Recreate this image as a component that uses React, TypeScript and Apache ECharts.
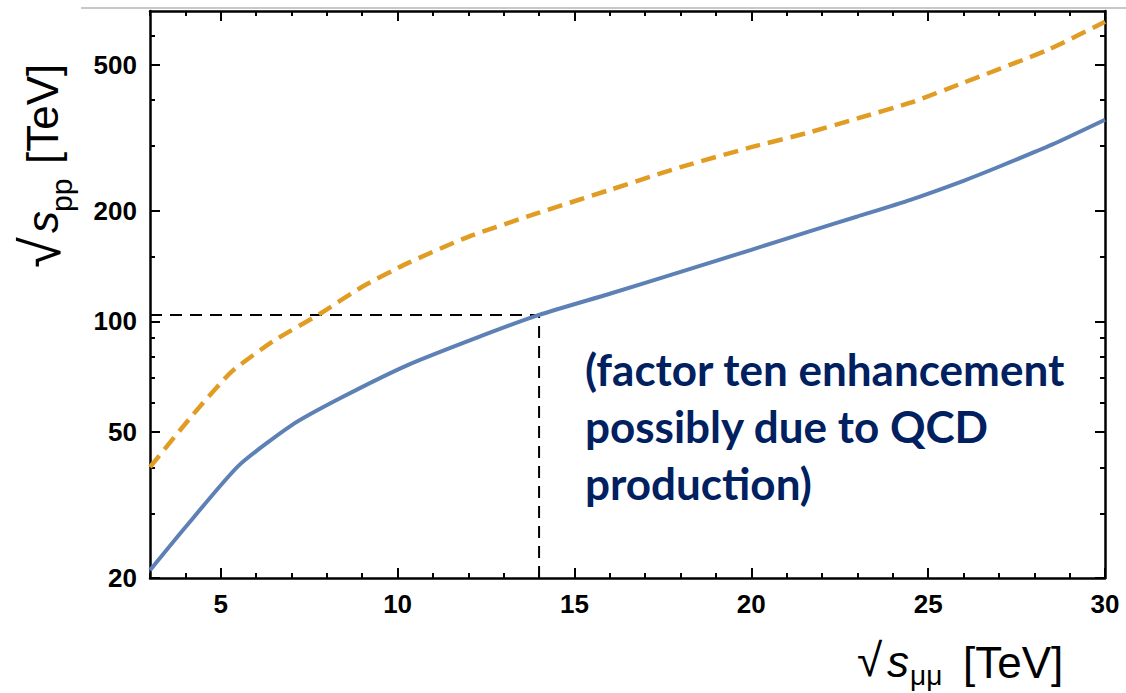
import React, { useEffect, useRef } from "react";
import * as echarts from "echarts";

// ---- data ----
const blueX = [3, 4, 5.5, 7, 8.4, 10.3, 12.3, 14, 16, 18, 20, 21.6, 23, 24.5, 26, 27, 28.5, 30];
const blueY = [21.0, 27.5, 40.4, 52.1, 61.9, 76.1, 90.7, 104.1, 118.9, 136.4, 156.6, 175.3, 193, 214.3, 241.4, 263.6, 302.7, 354];

const orangeX = [3, 4.2, 5.3, 6.5, 7.8, 9, 10.3, 12, 14, 16, 18, 20, 21.6, 23, 24.5, 26, 28.4, 30];
const orangeY = [40.1, 55.5, 72.8, 88.5, 104.8, 124.2, 144.3, 169.9, 197.6, 228, 263, 298, 326.2, 357, 393.9, 446.6, 549.4, 654.6];

const refX = [3, 14, 14];
const refY = [104, 104, 20];

const xMajorTicks = [5, 10, 15, 20, 25, 30];
const yMajorTicks = [20, 50, 100, 200, 500];
const yMinorTicks = [30, 40, 60, 70, 80, 90, 150, 300, 400, 600];

const X_MIN = 3;
const X_MAX = 30;
const Y_MIN = 20;
const Y_MAX = 700;

const annotation = ["(factor ten enhancement", "possibly due to QCD", "production)"];

export default function App() {
  const ref = useRef<HTMLDivElement>(null);

  useEffect(() => {
    document.body.style.margin = "0";
    if (!ref.current) return;
    const chart = echarts.init(ref.current, null, { renderer: "svg" });

    const black = "#000";
    const lmin = Math.log10(Y_MIN);
    const lmax = Math.log10(Y_MAX);
    const tickFont = {
      fontFamily: "Liberation Sans",
      fontWeight: "bold" as const,
      fontSize: 26,
      color: black,
    };

    const xBase = (pos: "bottom" | "top", major: boolean, labels: boolean) => ({
      type: "value",
      position: pos,
      min: X_MIN,
      max: X_MAX,
      interval: 1,
      axisLine: { show: !major, onZero: false, lineStyle: { color: black, width: 2.5 } },
      axisTick: major
        ? { show: true, inside: true, length: 10, customValues: xMajorTicks, lineStyle: { color: black, width: 2 } }
        : { show: true, inside: true, length: 5, lineStyle: { color: black, width: 2 } },
      axisLabel: labels
        ? {
            show: true,
            margin: 13,
            ...tickFont,
            formatter: (v: number) => (xMajorTicks.indexOf(v) >= 0 ? String(v) : ""),
          }
        : { show: false },
      splitLine: { show: false },
    });

    const yBase = (pos: "left" | "right", major: boolean, labels: boolean) => ({
      type: "value",
      position: pos,
      min: lmin,
      max: lmax,
      axisLine: { show: !major, onZero: false, lineStyle: { color: black, width: 2.5 } },
      axisTick: {
        show: true,
        inside: true,
        length: major ? 10 : 5,
        customValues: (major ? yMajorTicks : yMinorTicks).map((v) => Math.log10(v)),
        lineStyle: { color: black, width: 2 },
      },
      axisLabel: labels
        ? {
            show: true,
            margin: 13,
            ...tickFont,
            customValues: yMajorTicks.map((v) => Math.log10(v)),
            formatter: (v: number) => String(Math.round(Math.pow(10, v))),
          }
        : { show: false },
      splitLine: { show: false },
    });

    const zip = (xs: number[], ys: number[]) => xs.map((x, i) => [x, ys[i]]);

    const txt = (text: string, x: number, y: number, size: number, extra: any = {}) => ({
      type: "text",
      x,
      y,
      style: {
        text,
        fontFamily: "Liberation Sans",
        fontSize: size,
        fill: black,
        align: "left",
        verticalAlign: "middle",
        ...extra,
      },
    });

    chart.setOption({
      animation: false,
      grid: { left: 150, top: 11, right: 21, bottom: 115, containLabel: false },
      xAxis: [
        xBase("bottom", false, true),
        xBase("bottom", true, false),
        xBase("top", false, false),
        xBase("top", true, false),
      ],
      yAxis: [
        {
          type: "log",
          logBase: 10,
          min: Y_MIN,
          max: Y_MAX,
          position: "left",
          axisLine: { show: false, onZero: false },
          axisTick: { show: false },
          axisLabel: { show: false },
          splitLine: { show: false },
        },
        yBase("left", false, false),
        yBase("left", true, true),
        yBase("right", false, false),
        yBase("right", true, false),
      ],
      series: [
        {
          type: "line",
          name: "ref",
          xAxisIndex: 0,
          yAxisIndex: 0,
          data: zip(refX, refY),
          symbol: "none",
          z: 1,
          lineStyle: { color: black, width: 2, type: [12, 8] },
        },
        {
          type: "line",
          name: "upper",
          xAxisIndex: 0,
          yAxisIndex: 0,
          data: zip(orangeX, orangeY),
          symbol: "none",
          smooth: 0.2,
          z: 3,
          lineStyle: { color: "#E19C24", width: 4.5, type: [15, 8] },
        },
        {
          type: "line",
          name: "lower",
          xAxisIndex: 0,
          yAxisIndex: 0,
          data: zip(blueX, blueY),
          symbol: "none",
          smooth: 0.2,
          z: 4,
          lineStyle: { color: "#5E81B5", width: 4 },
        },
      ],
      graphic: [
        {
          type: "line",
          shape: { x1: 81, y1: 8, x2: 1126, y2: 8 },
          style: { stroke: "#c8c8c8", lineWidth: 2 },
        },
        {
          type: "text",
          x: 585,
          y: 340,
          style: {
            text: annotation.join("\n"),
            fontFamily: "Lato",
            fontWeight: "bold",
            fontSize: 44,
            lineHeight: 57,
            fill: "#002060",
            align: "left",
            verticalAlign: "top",
          },
        },
        // x-axis title: √s_μμ [TeV]
        txt("√", 857, 660, 46),
        txt("s", 887, 661, 44, { fontStyle: "italic" }),
        txt("μμ", 910, 675, 28),
        txt("[TeV]", 963, 662, 44),
        // y-axis title: √s_pp [TeV] (rotated)
        {
          type: "group",
          x: 57,
          y: 268,
          rotation: Math.PI / 2,
          children: [
            txt("√", 0, -17, 56),
            txt("s", 35, -15, 44, { fontStyle: "italic" }),
            txt("pp", 56, 4, 30),
            txt("[TeV]", 104, -15, 44),
          ],
        },
      ],
    });

    return () => chart.dispose();
  }, []);

  return <div ref={ref} style={{ width: 1126, height: 693 }} />;
}
